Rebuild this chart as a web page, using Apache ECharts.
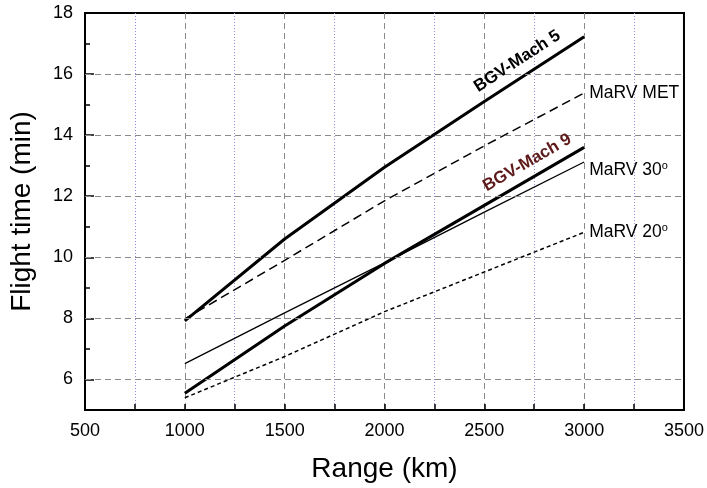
<!DOCTYPE html>
<html><head><meta charset="utf-8">
<script src="https://cdn.jsdelivr.net/npm/echarts@6/dist/echarts.min.js"></script>
<style>html,body{margin:0;padding:0;background:#fff}#c{width:707px;height:488px}</style>
</head><body><div id="c"></div>
<script>
const rangeKm = [1000, 1500, 2000, 2500, 3000];
const bgvMach5 = [7.92, 10.6, 12.95, 15.1, 17.22];
const marvMet = [7.98, 9.9, 11.85, 13.65, 15.38];
const bgvMach9 = [5.55, 7.75, 9.8, 11.7, 13.6];
const marv30 = [6.52, 8.18, 9.82, 11.48, 13.12];
const marv20 = [5.4, 6.75, 8.22, 9.52, 10.82];
const yMajor = [6, 8, 10, 12, 14, 16, 18];
const yGrid = [6, 8, 10, 12, 14, 16];

const FONT = 'Liberation Sans, Arial, sans-serif';
const pair = arr => rangeKm.map((x, i) => [x, arr[i]]);

const chart = echarts.init(document.getElementById('c'), null, {renderer: 'canvas'});
const endLab = (txt, dy) => ({
  show: true, formatter: txt, distance: 5, offset: [0, dy],
  color: '#000', fontFamily: FONT, fontSize: 17.5,
  rich: {sup: {fontSize: 11, verticalAlign: 'top', padding: [0, 0, 9, 0], color: '#000', fontFamily: FONT}}
});
chart.setOption({
  animation: false,
  backgroundColor: '#fff',
  grid: {left: 85, right: 23, top: 13, bottom: 76, show: true, borderColor: '#000', borderWidth: 2, containLabel: false},
  xAxis: {
    type: 'value', min: 500, max: 3500, interval: 500,
    name: 'Range (km)', nameLocation: 'middle', nameGap: 45,
    nameTextStyle: {fontFamily: FONT, fontSize: 28, color: '#000'},
    axisLine: {show: true, lineStyle: {color: '#000', width: 2}},
    axisTick: {show: true, inside: true, length: 6, lineStyle: {color: '#000', width: 1.5}},
    minorTick: {show: true, splitNumber: 2, length: 6, lineStyle: {color: '#000', width: 1.5}},
    axisLabel: {fontFamily: FONT, fontSize: 18, color: '#000', margin: 12, formatter: v => String(v)},
    splitLine: {show: true, showMinLine: false, showMaxLine: false, lineStyle: {color: '#8a8a8a', type: [6, 4], width: 1}},
    minorSplitLine: {show: true, lineStyle: {color: '#8c8cdc', type: [1, 2], width: 1}}
  },
  yAxis: [{
    type: 'value', min: 5, max: 18, interval: 1,
    name: 'Flight time (min)', nameLocation: 'middle', nameGap: 49,
    nameTextStyle: {fontFamily: FONT, fontSize: 28, color: '#000'},
    axisLine: {show: true, lineStyle: {color: '#000', width: 2}},
    axisTick: {show: true, inside: true, length: 5, lineStyle: {color: '#000', width: 1.5}},
    axisLabel: {fontFamily: FONT, fontSize: 18, color: '#000', margin: 12,
      formatter: v => (v % 2 === 0 ? String(v) : '')},
    splitLine: {show: false}
  }, {
    type: 'value', min: 5, max: 18, interval: 1, position: 'left',
    axisLine: {show: false},
    axisTick: {show: true, inside: true, length: 9, customValues: yMajor, lineStyle: {color: '#000', width: 1.5}},
    axisLabel: {show: false},
    splitLine: {show: false}
  }],
  series: [
    {type: 'line', data: [], z: 1, silent: true,
      markLine: {silent: true, symbol: 'none', label: {show: false}, animation: false,
        lineStyle: {color: '#8a8a8a', type: [6, 4], width: 1},
        data: yGrid.map(v => ({yAxis: v}))}},
    {name: 'BGV-Mach 5', type: 'line', data: pair(bgvMach5), showSymbol: false, symbol: 'none',
      lineStyle: {color: '#000', width: 3},
      markPoint: {symbol: 'circle', symbolSize: 0, data: [{coord: [2665, 16.42]}],
        label: {show: true, formatter: 'BGV-Mach 5', rotate: 33, position: 'inside', color: '#000',
          fontFamily: FONT, fontWeight: 'bold', fontSize: 17}}},
    {name: 'MaRV MET', type: 'line', data: pair(marvMet), showSymbol: false, symbol: 'none',
      lineStyle: {color: '#000', width: 1.5, type: [9, 5]},
      endLabel: endLab('MaRV MET', 0)},
    {name: 'BGV-Mach 9', type: 'line', data: pair(bgvMach9), showSymbol: false, symbol: 'none',
      lineStyle: {color: '#000', width: 3},
      markPoint: {symbol: 'circle', symbolSize: 0, data: [{coord: [2715, 13.1]}],
        label: {show: true, formatter: 'BGV-Mach 9', rotate: 30, position: 'inside', color: '#5e1a1a',
          fontFamily: FONT, fontWeight: 'bold', fontSize: 17}}},
    {name: 'MaRV 30', type: 'line', data: pair(marv30), showSymbol: false, symbol: 'none',
      lineStyle: {color: '#000', width: 1.3},
      endLabel: endLab('MaRV 30{sup|o}', 8)},
    {name: 'MaRV 20', type: 'line', data: pair(marv20), showSymbol: false, symbol: 'none',
      lineStyle: {color: '#000', width: 1.5, type: [4, 3]},
      endLabel: endLab('MaRV 20{sup|o}', 0)}
  ]
});
</script></body></html>
